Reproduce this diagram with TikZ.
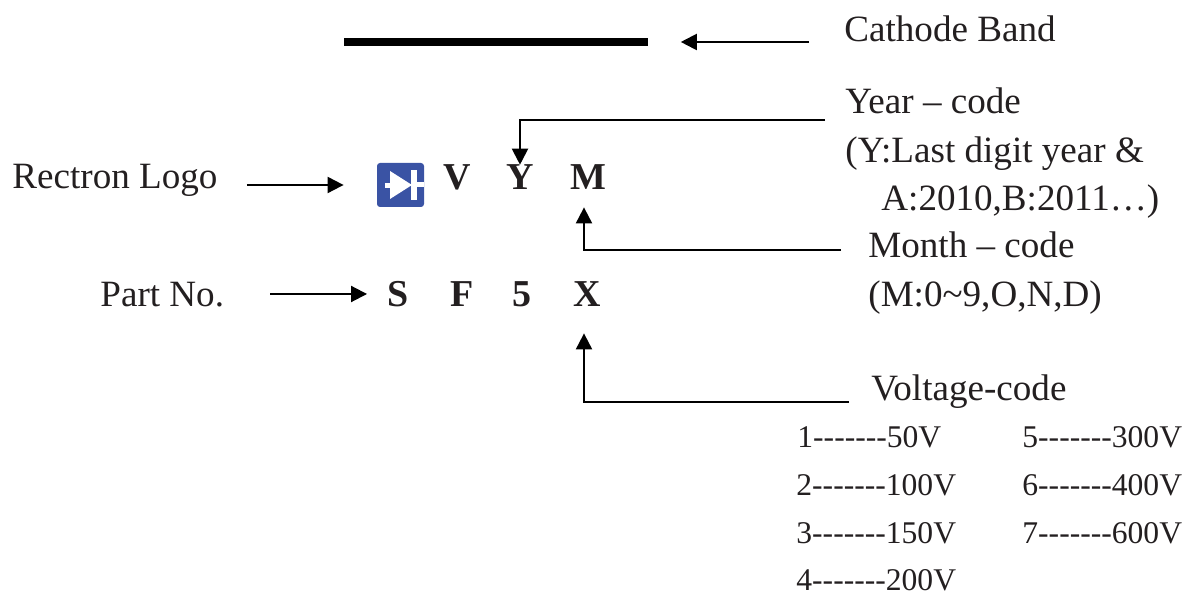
\documentclass[tikz,border=0pt]{standalone}
\usepackage{fontspec}
\setmainfont[Ligatures=TeXOff]{Liberation Serif}
\usetikzlibrary{calc,arrows.meta}
\definecolor{logoblue}{RGB}{58,83,164}
\definecolor{inkblack}{RGB}{35,31,32}
\tikzset{
      lbl/.style={
          anchor=base west,
          inner sep=0pt,
          text=inkblack,
          font=\fontsize{18.55}{20}\selectfont
      },
      codelbl/.style={
          anchor=base west,
          inner sep=0pt,
          text=inkblack,
          font=\fontsize{15.8}{17}\selectfont
      },
      letter/.style={
          anchor=base,
          inner sep=0pt,
          text=inkblack,
          font=\fontsize{19}{20}\selectfont\bfseries
      },
      conn/.style={
          draw=black,
          line width=1pt,
          -{Triangle[length=8pt,width=8pt]}
      }
  }

\begin{document}
\begin{tikzpicture}[x=0.5pt,y=-0.5pt]
    \useasboundingbox (0,0) rectangle (1190,597);

    \node [minimum width=152pt, minimum height=4pt, inner sep=0pt, fill=black, anchor=west] (band) at (344,42) {};
    \node [lbl] (cathode) at (844,42) {Cathode Band};
    \node [lbl] (year) at (845,114) {Year – code};
    \node [lbl] (yearb) at (845,163) {(Y:Last digit year \&};
    \node [lbl] (yearc) at (881,211) {A:2010,B:2011…)};
    \node [lbl] (month) at (868,258) {Month – code};
    \node [lbl] (monthb) at (868,307) {(M:0\textasciitilde 9,O,N,D)};
    \node [lbl] (voltage) at (871,401) {Voltage-code};
    \node [lbl] (rectron) at (12,189) {Rectron Logo};
    \node [lbl] (partno) at (100,307) {Part No.};

    %% logo
    \node [minimum width=23.5pt, minimum height=22pt, inner sep=0pt, rounded corners=1.5pt, fill=logoblue] (logo) at (400.5,185) {};
    \fill[white] (390,171) -- (390,199) -- (412,185) -- cycle;
    \fill[white] (411,170) rectangle (417,200);
    \fill[white] (385,183) rectangle (390,188);
    \fill[white] (417,182) rectangle (424,187);

    \node [letter] (v) at (457,190) {V};
    \node [letter] (y) at (520,190) {Y};
    \node [letter] (m) at (588,190) {M};
    \node [letter] (s) at (398,307) {S};
    \node [letter] (f) at (462,307) {F};
    \node [letter] (five) at (522,307) {5};
    \node [letter] (x) at (587,307) {X};

    \node [codelbl] (c1) at (797,448) {1-------50V};
    \node [codelbl] (c2) at (796,496) {2-------100V};
    \node [codelbl] (c3) at (796,544) {3-------150V};
    \node [codelbl] (c4) at (796,591) {4-------200V};
    \node [codelbl] (c5) at (1022,448) {5-------300V};
    \node [codelbl] (c6) at (1022,496) {6-------400V};
    \node [codelbl] (c7) at (1022,544) {7-------600V};

    %%
    \draw[conn] ($(cathode.west |- band)+(-35,0)$) -- ($(band.east)+(32,0)$);
    \draw[conn] ($(rectron.east |- logo)+(29,0)$) -- ($(logo.west)+(-33,0)$);
    \draw[conn] ($(partno.east |- 0,294)+(46,0)$) -- ($(s.west |- 0,294)+(-20,0)$);
    \draw[conn] ($(year.west |- 0,120)+(-20,0)$) -| (y.north);
    \draw[conn] ($(month.west |- 0,250)+(-27,0)$) -| ($(m.south)+(-4,17)$);
    \draw[conn] ($(voltage.west |- 0,402)+(-22,0)$) -| ($(x.south)+(-3,26)$);
\end{tikzpicture}
\end{document}
